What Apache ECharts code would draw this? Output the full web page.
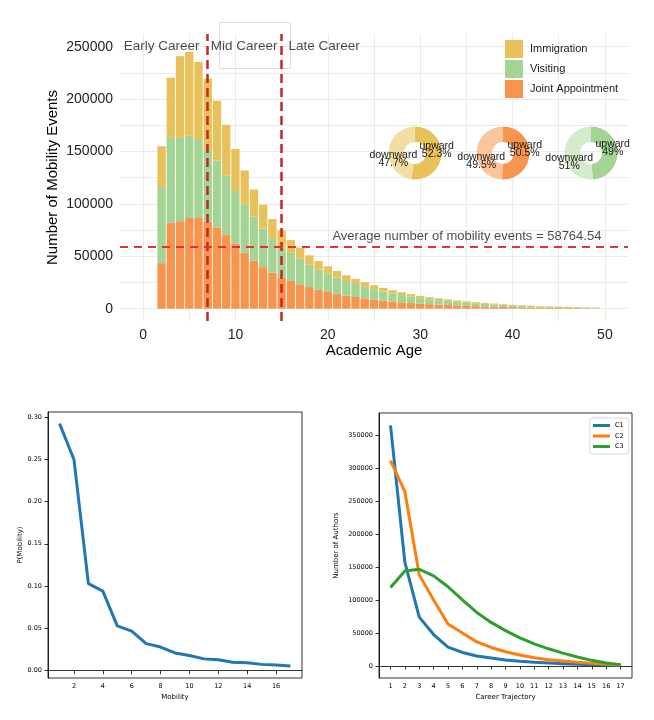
<!DOCTYPE html>
<html>
<head>
<meta charset="utf-8">
<script src="https://cdn.jsdelivr.net/npm/echarts@6/dist/echarts.min.js"></script>
<style>
  html, body { margin: 0; padding: 0; background: #fff; }
  #chart { width: 654px; height: 720px; }
</style>
</head>
<body>
<div id="chart"></div>
<script>
// top chart: mobility events by academic age
const ages = [2, 3, 4, 5, 6, 7, 8, 9, 10, 11, 12, 13, 14, 15, 16, 17, 18, 19, 20, 21, 22, 23, 24, 25,
  26, 27, 28, 29, 30, 31, 32, 33, 34, 35, 36, 37, 38, 39, 40, 41, 42, 43, 44, 45, 46, 47, 48, 49]
const joint = [43500, 82000, 83500, 86500, 86500, 83000, 77500, 70500, 62000, 53500, 46000, 39700,
  34300, 30000, 26500, 23300, 20700, 18200, 16000, 14200, 12600, 11200, 10000, 8900,
  7900, 7000, 6200, 5500, 4900, 4400, 4000, 3600, 3200, 2850, 2500, 2200,
  1950, 1700, 1500, 1300, 1150, 1000, 900, 800, 700, 600, 500, 400]
const visiting = [72500, 81500, 79500, 78500, 74500, 68500, 64000, 56800, 50300, 46000, 41800, 36900,
  32800, 28800, 27000, 24700, 21600, 19300, 17500, 15600, 13900, 12400, 11000, 9700,
  8600, 7700, 6800, 6000, 5300, 4800, 4300, 3900, 3500, 3100, 2750, 2450,
  2150, 1900, 1700, 1500, 1300, 1150, 1000, 900, 800, 700, 600, 500]
const immigration = [39000, 57000, 78000, 80000, 74500, 68000, 57000, 48200, 40200, 32500, 26000, 22600,
  18500, 15900, 12000, 10000, 8700, 8000, 7000, 6200, 5500, 4900, 4300, 3800,
  3400, 3000, 2700, 2400, 2100, 1900, 1700, 1500, 1300, 1200, 1050, 950,
  850, 750, 650, 580, 500, 450, 400, 350, 300, 260, 230, 200]
const avgEvents = 58764.54
const careerBreaks = [7, 15]
const careerNames = ['Early Career', 'Mid Career', 'Late Career']
const topXTicks = [0, 5, 10, 15, 20, 25, 30, 35, 40, 45, 50]
const topXLabels = [0, 10, 20, 30, 40, 50]
const topYTicks = [0, 25000, 50000, 75000, 100000, 125000, 150000, 175000, 200000, 225000, 250000]
const topYLabels = [0, 50000, 100000, 150000, 200000, 250000]

// donuts: share of upward / downward moves
const donutGroups = ['Immigration', 'Joint Appointment', 'Visiting']
const upwardShare = [52.3, 50.5, 49]
const downwardShare = [47.7, 49.5, 51]

// bottom left: P(Mobility)
const mobility = [1, 2, 3, 4, 5, 6, 7, 8, 9, 10, 11, 12, 13, 14, 15, 16, 17]
const pMobility = [0.292, 0.2495, 0.103, 0.094, 0.053, 0.0468, 0.032, 0.028, 0.021, 0.018,
  0.014, 0.013, 0.010, 0.0094, 0.0075, 0.0067, 0.0055]
const mobXTicks = [2, 4, 6, 8, 10, 12, 14, 16]
const mobYTicks = [0, 0.05, 0.10, 0.15, 0.20, 0.25, 0.30]

// bottom right: authors per career trajectory
const trajectory = [1, 2, 3, 4, 5, 6, 7, 8, 9, 10, 11, 12, 13, 14, 15, 16, 17]
const c1 = [364500, 157000, 74000, 47600, 28500, 20500, 15000, 12000, 9000, 7000, 5500, 4500, 3500, 2500, 2000, 1500, 1500]
const c2 = [311000, 264000, 138000, 100000, 63600, 50000, 36500, 28000, 21500, 16500, 12500, 9500, 7500, 5500, 4000, 2500, 1500]
const c3 = [119000, 144000, 146500, 136500, 120000, 100000, 81000, 66000, 53500, 42500, 33500, 26000, 19500, 13500, 8500, 4500, 2000]
const trajYTicks = [0, 50000, 100000, 150000, 200000, 250000, 300000, 350000]

const colors = {
  Immigration: ['#e8c15a', '#f1dea3'],
  Visiting: ['#a3d494', '#d4ebcc'],
  'Joint Appointment': ['#f7944e', '#fbc59c']
}

// hidden band axis for the stacked bars: one slot per integer age from -2 to 52
const ageSlots = Array.from({ length: 55 }, (_, i) => String(i - 2))

const chart = echarts.init(document.getElementById('chart'))

const pair = (xs, ys) => xs.map((x, i) => [x, ys[i]])
const plain = v => String(v)

const mplAxis = (extra) => Object.assign({
  type: 'value',
  axisLine: { show: true, lineStyle: { color: '#000', width: 0.8 } },
  splitLine: { show: false },
  nameLocation: 'middle',
  nameTextStyle: { fontFamily: 'DejaVu Sans', fontSize: 7, color: '#000' }
}, extra)

const mplTick = ticks => ({ show: true, length: 3.5, customValues: ticks, lineStyle: { color: '#000', width: 0.8 } })

const mplLabel = (ticks, fmt, margin) => ({
  customValues: ticks,
  formatter: fmt,
  margin: margin,
  hideOverlap: false,
  fontFamily: 'DejaVu Sans',
  fontSize: 6.5,
  color: '#000'
})

const barSeries = (name, values) => ({
  name,
  type: 'bar',
  stack: 'events',
  xAxisIndex: 0,
  yAxisIndex: 0,
  barWidth: '90%',
  itemStyle: { color: colors[name][0] },
  data: ages.map((a, i) => [String(a), values[i]])
})

const donutSeries = donutGroups.map((g, i) => ({
  type: 'pie',
  center: [415 + i * 88, 153],
  radius: [11, 26.5],
  startAngle: 90,
  clockwise: true,
  silent: true,
  label: {
    position: 'inside',
    fontFamily: 'Liberation Sans',
    fontSize: 10.5,
    lineHeight: 8,
    color: '#1a1a1a'
  },
  labelLine: { show: false },
  data: [
    { name: 'upward', value: upwardShare[i], itemStyle: { color: colors[g][0] },
      label: { formatter: p => p.name + '\n' + p.value + '%\n ' } },
    { name: 'downward', value: downwardShare[i], itemStyle: { color: colors[g][1] },
      label: { formatter: p => ' \n \n' + p.name + '\n' + p.value + '%' } }
  ]
}))

const option = {
  animation: false,
  backgroundColor: '#fff',
  textStyle: { fontFamily: 'Liberation Sans' },
  legend: [
    {
      data: ['Immigration', 'Visiting', 'Joint Appointment'],
      orient: 'vertical',
      left: 505,
      top: 40,
      padding: 0,
      icon: 'rect',
      itemWidth: 18,
      itemHeight: 18,
      itemGap: 2,
      selectedMode: false,
      textStyle: { fontSize: 11, color: '#1a1a1a', padding: [0, 0, 0, 2] }
    },
    {
      data: ['C1', 'C2', 'C3'],
      orient: 'vertical',
      left: 590,
      top: 418,
      icon: 'rect',
      itemWidth: 17,
      itemHeight: 3,
      itemGap: 3.5,
      padding: [4, 5, 4, 3],
      borderColor: '#d0d0d0',
      borderWidth: 0.8,
      borderRadius: 2,
      selectedMode: false,
      textStyle: { fontFamily: 'DejaVu Sans', fontSize: 6.5, color: '#000' }
    }
  ],
  grid: [
    { left: 120, top: 34, width: 508, height: 287, outerBoundsMode: 'none' },
    { left: 48, top: 412, width: 254, height: 266, show: true, borderColor: '#000', borderWidth: 0.8, outerBoundsMode: 'none' },
    { left: 379, top: 413, width: 253, height: 265, show: true, borderColor: '#000', borderWidth: 0.8, outerBoundsMode: 'none' }
  ],
  xAxis: [
    { type: 'category', gridIndex: 0, position: 'bottom', data: ageSlots, show: false },
    mplAxis({
      gridIndex: 1, min: 0.2, max: 17.8, name: 'Mobility', nameGap: 16,
      axisTick: mplTick(mobXTicks),
      axisLabel: mplLabel(mobXTicks, plain, 5)
    }),
    mplAxis({
      gridIndex: 2, min: 0.2, max: 17.8, name: 'Career Trajectory', nameGap: 16,
      axisTick: mplTick(trajectory),
      axisLabel: mplLabel(trajectory, plain, 5)
    }),
    {
      type: 'value',
      gridIndex: 0,
      position: 'bottom',
      min: -2.5,
      max: 52.5,
      name: 'Academic Age',
      nameLocation: 'middle',
      nameGap: 21,
      nameTextStyle: { fontSize: 15, color: '#000' },
      axisLine: { show: false },
      axisTick: { show: false, customValues: topXTicks },
      axisLabel: { customValues: topXLabels, fontSize: 14, color: '#222', margin: 7 },
      splitLine: { show: true, lineStyle: { color: '#ebebeb', width: 1 } }
    }
  ],
  yAxis: [
    {
      type: 'value',
      gridIndex: 0,
      min: -11700,
      max: 262100,
      name: 'Number of Mobility Events',
      nameLocation: 'middle',
      nameGap: 60,
      nameMoveOverlap: false,
      nameTextStyle: { fontSize: 15, color: '#000' },
      axisLine: { show: false },
      axisTick: { show: false, customValues: topYTicks },
      axisLabel: { customValues: topYLabels, formatter: plain, fontSize: 14, color: '#222', margin: 7 },
      splitLine: { show: true, lineStyle: { color: '#ebebeb', width: 1 } }
    },
    mplAxis({
      gridIndex: 1, min: -0.0086, max: 0.3057, name: 'P(Mobility)', nameGap: 24,
      axisTick: mplTick(mobYTicks),
      axisLabel: mplLabel(mobYTicks, v => v.toFixed(2), 6)
    }),
    mplAxis({
      gridIndex: 2, min: -18250, max: 383250, name: 'Number of Authors', nameGap: 39,
      axisTick: mplTick(trajYTicks),
      axisLabel: mplLabel(trajYTicks, plain, 6)
    })
  ],
  graphic: [
    {
      type: 'rect',
      z: 1,
      silent: true,
      shape: { x: 219.5, y: 22.5, width: 71, height: 46 },
      style: { fill: 'none', stroke: '#dedede', lineWidth: 1 }
    }
  ],
  series: [
    barSeries('Joint Appointment', joint),
    barSeries('Visiting', visiting),
    barSeries('Immigration', immigration),
    {
      // text annotations + reference lines on the top chart
      type: 'scatter',
      xAxisIndex: 3,
      yAxisIndex: 0,
      symbolSize: 0,
      silent: true,
      z: 5,
      label: {
        show: true,
        position: 'inside',
        formatter: '{b}',
        fontSize: 13.5,
        color: '#1a1a1a'
      },
      data: [
        { name: careerNames[0], value: [2, 250500] },
        { name: careerNames[1], value: [10.95, 250500] },
        { name: careerNames[2], value: [19.6, 250500] },
        {
          name: 'Average number of mobility events = ' + avgEvents,
          value: [20.5, avgEvents],
          label: { position: 'right', distance: 0, offset: [0, -11], fontSize: 13 }
        }
      ],
      markLine: {
        silent: true,
        symbol: 'none',
        label: { show: false },
        data: [
          { xAxis: careerBreaks[0], lineStyle: { color: '#cc2424', type: [9, 5], width: 2.5 } },
          { xAxis: careerBreaks[1], lineStyle: { color: '#cc2424', type: [9, 5], width: 2.5 } },
          { yAxis: avgEvents, lineStyle: { color: '#e8302c', type: [8, 6], width: 2 } }
        ]
      }
    },
    ...donutSeries,
    {
      type: 'line',
      xAxisIndex: 1,
      yAxisIndex: 1,
      showSymbol: false,
      lineStyle: { color: '#1f77b4', width: 3 },
      data: pair(mobility, pMobility)
    },
    {
      name: 'C1',
      type: 'line',
      xAxisIndex: 2,
      yAxisIndex: 2,
      showSymbol: false,
      color: '#1f77b4',
      lineStyle: { color: '#1f77b4', width: 3 },
      data: pair(trajectory, c1)
    },
    {
      name: 'C2',
      type: 'line',
      xAxisIndex: 2,
      yAxisIndex: 2,
      showSymbol: false,
      color: '#ff7f0e',
      lineStyle: { color: '#ff7f0e', width: 3 },
      data: pair(trajectory, c2)
    },
    {
      name: 'C3',
      type: 'line',
      xAxisIndex: 2,
      yAxisIndex: 2,
      showSymbol: false,
      color: '#2ca02c',
      lineStyle: { color: '#2ca02c', width: 3 },
      data: pair(trajectory, c3)
    }
  ]
}

chart.setOption(option)
</script>
</body>
</html>
